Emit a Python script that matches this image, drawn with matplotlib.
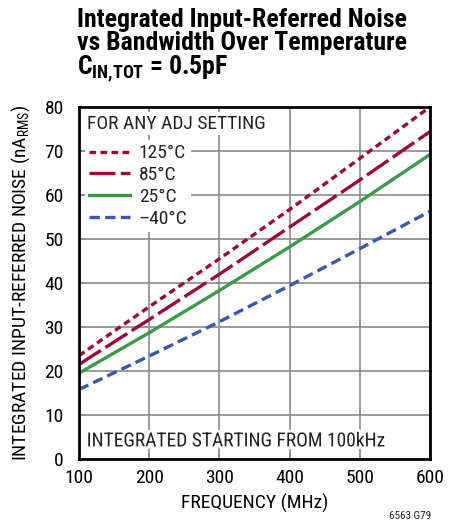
#!/usr/bin/env python
#-*- coding:utf-8 -*-
import numpy as np
import matplotlib
matplotlib.use('Agg')
from matplotlib import pyplot as plt
import matplotlib.patheffects as pe

# data
freq = [100, 200, 300, 400, 500, 600]
noise_125 = [23.5, 34.6, 45.5, 56.7, 68.3, 80.0]
noise_85 = [21.5, 31.7, 42.0, 52.7, 63.4, 74.4]
noise_25 = [19.5, 28.7, 38.3, 48.2, 58.5, 69.2]
noise_m40 = [15.8, 23.4, 31.2, 39.4, 47.8, 56.3]
labels = ['125°C', '85°C', '25°C', '–40°C']
xticks = [100, 200, 300, 400, 500, 600]
yticks = [0, 10, 20, 30, 40, 50, 60, 70, 80]

FONT = ['Roboto Condensed', 'Liberation Sans Narrow', 'Archivo Narrow', 'DejaVu Sans']
plt.rcParams['font.family'] = FONT
plt.rcParams['font.size'] = 13
plt.rcParams['text.color'] = '#222222'

RED = '#9a0a36'
GREEN = '#3b9a48'
BLUE = '#3d56ad'
LW = 2.4

fig = plt.figure(figsize=(4.6, 5.29), dpi=100)
ax = fig.add_axes([0.1717, 0.1323, 0.7630, 0.6654])

ax.plot(freq, noise_125, color=RED, lw=LW, dashes=(2.0, 1.3), label=labels[0])
ax.plot(freq, noise_85, color=RED, lw=LW, dashes=(7.8, 1.6), label=labels[1])
ax.plot(freq, noise_25, color=GREEN, lw=LW, label=labels[2])
ax.plot(freq, noise_m40, color=BLUE, lw=LW, dashes=(3.1, 1.6), label=labels[3])

ax.set_xlim(100, 600)
ax.set_ylim(0, 80)
ax.set_xticks(xticks)
ax.set_yticks(yticks)
ax.grid(True, color='#8a8a8a', lw=1.2)
ax.set_axisbelow(True)
ax.tick_params(direction='in', length=4, width=1.2, color='#8a8a8a',
               labelsize=14)
ax.tick_params(axis='x', pad=7)
ax.tick_params(axis='y', pad=11)
for s in ax.spines.values():
    s.set_linewidth(2)
    s.set_color('black')

ax.set_xlabel('FREQUENCY (MHz)', fontsize=14, labelpad=5)
ax.set_ylabel('INTEGRATED INPUT-REFERRED NOISE (nA$_\\mathregular{RMS}$)',
              fontsize=14, labelpad=9)

ax.text(0.022, 0.953, 'FOR ANY ADJ SETTING', transform=ax.transAxes,
        fontsize=14, ha='left', va='center',
        bbox=dict(facecolor='white', edgecolor='none', pad=2))

leg = ax.legend(loc='upper left', bbox_to_anchor=(0.018, 0.905), fontsize=14,
                frameon=True, fancybox=False, framealpha=1, edgecolor='none',
                handlelength=2.1, handletextpad=0.45, labelspacing=0.2,
                borderpad=0.2, borderaxespad=0)
leg.get_frame().set_linewidth(0)

ax.text(0.022, 0.05, 'INTEGRATED STARTING FROM 100kHz', transform=ax.transAxes,
        fontsize=14, ha='left', va='center',
        path_effects=[pe.withStroke(linewidth=4, foreground='white')])

fig.text(0.168, 0.949, 'Integrated Input-Referred Noise', fontsize=18.5,
         fontweight='bold', color='black', ha='left', va='baseline')
fig.text(0.168, 0.906, 'vs Bandwidth Over Temperature', fontsize=18.5,
         fontweight='bold', color='black', ha='left', va='baseline')
fig.text(0.168, 0.859, 'C$_\\mathregular{IN{,}TOT}$ = 0.5pF', fontsize=18.5,
         fontweight='bold', color='black', ha='left', va='baseline')

fig.text(0.937, 0.015, '6563 G79', fontsize=8, ha='right', va='bottom')

fig.savefig('out.png', dpi=100)
